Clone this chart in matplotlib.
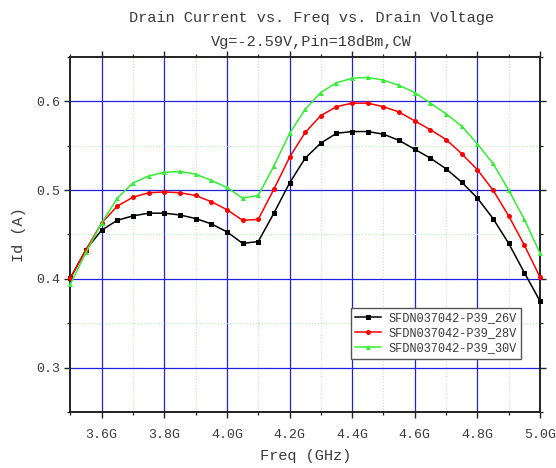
import matplotlib
matplotlib.use("Agg")
import matplotlib.pyplot as plt
import matplotlib.ticker as ticker

plt.rcParams.update({
    "font.family": ["Liberation Mono", "DejaVu Sans Mono"],
    "text.color": "#3a3a3a",
    "axes.labelcolor": "#3a3a3a",
    "xtick.color": "#222222",
    "ytick.color": "#222222",
    "xtick.labelcolor": "#3a3a3a",
    "ytick.labelcolor": "#3a3a3a",
})

# ── data ─────────────────────────────────────────────────────────────────────
freq = [3.50, 3.55, 3.60, 3.65, 3.70, 3.75, 3.80, 3.85, 3.90, 3.95,
        4.00, 4.05, 4.10, 4.15, 4.20, 4.25, 4.30, 4.35, 4.40, 4.45,
        4.50, 4.55, 4.60, 4.65, 4.70, 4.75, 4.80, 4.85, 4.90, 4.95, 5.00]

id_26v = [0.401, 0.433, 0.455, 0.466, 0.471, 0.474, 0.474, 0.472, 0.468, 0.462,
          0.453, 0.440, 0.442, 0.474, 0.508, 0.536, 0.553, 0.564, 0.566, 0.566,
          0.563, 0.556, 0.546, 0.536, 0.524, 0.509, 0.491, 0.468, 0.440, 0.407, 0.375]

id_28v = [0.401, 0.433, 0.463, 0.482, 0.492, 0.497, 0.498, 0.497, 0.494, 0.487,
          0.478, 0.466, 0.467, 0.501, 0.537, 0.565, 0.584, 0.594, 0.598, 0.598,
          0.594, 0.588, 0.578, 0.568, 0.557, 0.541, 0.523, 0.500, 0.471, 0.438, 0.402]

id_30v = [0.394, 0.430, 0.463, 0.491, 0.508, 0.516, 0.520, 0.521, 0.518, 0.511,
          0.503, 0.491, 0.494, 0.527, 0.564, 0.591, 0.610, 0.621, 0.626, 0.627,
          0.624, 0.618, 0.610, 0.598, 0.586, 0.572, 0.552, 0.530, 0.500, 0.467, 0.429]

labels = ["SFDN037042-P39_26V", "SFDN037042-P39_28V", "SFDN037042-P39_30V"]
xticks = [3.6, 3.8, 4.0, 4.2, 4.4, 4.6, 4.8, 5.0]
xticklabels = ["3.6G", "3.8G", "4.0G", "4.2G", "4.4G", "4.6G", "4.8G", "5.0G"]
yticks = [0.3, 0.4, 0.5, 0.6]

# ── figure ────────────────────────────────────────────────────────────────────
fig = plt.figure(figsize=(5.56, 4.68), dpi=100)
ax = fig.add_axes([0.1266, 0.1197, 0.8446, 0.7585])

ax.set_xlim(3.5, 5.0)
ax.set_ylim(0.25, 0.65)
ax.set_xticks(xticks)
ax.set_xticklabels(xticklabels)
ax.set_yticks(yticks)
ax.set_yticklabels([f"{v:.1f}" for v in yticks])
ax.xaxis.set_minor_locator(ticker.MultipleLocator(0.1))
ax.yaxis.set_minor_locator(ticker.MultipleLocator(0.05))

ax.grid(which="minor", color="#b8ecb8", lw=0.8, ls=":")
ax.grid(which="major", color="#2222dd", lw=0.9, ls="-")
ax.set_axisbelow(True)

styles = [("black", "s"), ("#ff0000", "o"), ("#33ee33", "^")]
for ys, lbl, (c, m) in zip([id_26v, id_28v, id_30v], labels, styles):
    ax.plot(freq, ys, color=c, lw=1.1, marker=m, markersize=3.6,
            markeredgewidth=0, label=lbl, clip_on=False, zorder=3)

for s in ax.spines.values():
    s.set_linewidth(1.4)
    s.set_color("#222222")

ax.tick_params(which="major", direction="out", length=4, width=1.0,
               labelsize=9.5, top=True, right=True)
ax.tick_params(which="minor", direction="out", length=2.5, width=0.9,
               top=True, right=True)
ax.tick_params(axis="x", pad=8)

ax.set_xlabel("Freq (GHz)", fontsize=11, labelpad=6)
ax.set_ylabel("Id (A)", fontsize=11, labelpad=7)

leg = ax.legend(loc="upper left", bbox_to_anchor=(0.597, 0.292),
                fontsize=8.6, frameon=True, fancybox=False, framealpha=1,
                edgecolor="#555555", handlelength=2.2, handletextpad=0.6,
                borderpad=0.35, labelspacing=0.25, borderaxespad=0)
leg.get_frame().set_linewidth(1.0)

fig.text(0.560, 0.962, "Drain Current vs. Freq vs. Drain Voltage",
         ha="center", va="center", fontsize=11)
fig.text(0.560, 0.910, "Vg=-2.59V,Pin=18dBm,CW",
         ha="center", va="center", fontsize=11)

fig.savefig("out.png", dpi=100)
